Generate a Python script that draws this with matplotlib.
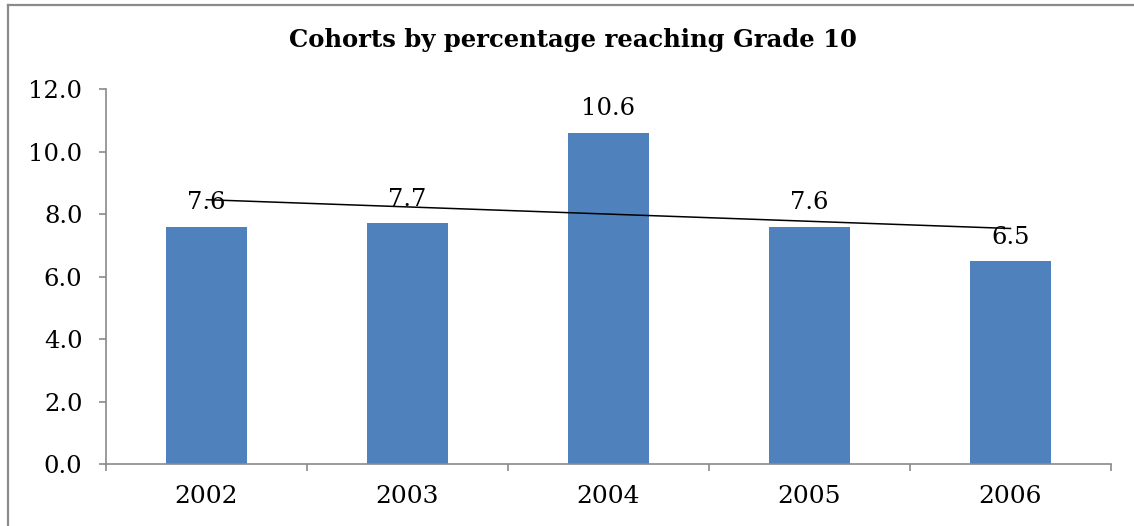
import matplotlib.pyplot as plt
import numpy as np
from matplotlib.lines import Line2D

### Data ###
years = ['2002', '2003', '2004', '2005', '2006']
pct = [7.6, 7.7, 10.6, 7.6, 6.5]
y_ticks = [0, 2, 4, 6, 8, 10, 12]
title = 'Cohorts by percentage reaching Grade 10'

W, H = 1134, 526
fig = plt.figure(figsize=(W / 100, H / 100), dpi=100)
plt.rcParams['font.family'] = ['DejaVu Serif']

# outer chart border (only top and left edges visible)
grey = '#8a8a8a'
fig.add_artist(Line2D([8 / W, 8 / W], [0, 1 - 5 / H], color=grey, lw=1.6, transform=fig.transFigure))
fig.add_artist(Line2D([8 / W, 1], [1 - 5 / H, 1 - 5 / H], color=grey, lw=1.6, transform=fig.transFigure))

ax = fig.add_axes([106 / W, (H - 464.3) / H, 1005 / W, (464.3 - 89) / H])

x = np.arange(len(years))
bars = ax.bar(x, pct, width=0.4, color='#4F81BD', zorder=2)
ax.bar_label(bars, labels=['%.1f' % v for v in pct], padding=9, fontsize=17.5)

# linear trendline
k, b = np.polyfit(x, pct, 1)
ax.plot(x, k * x + b, color='black', lw=1.1, zorder=3)

ax.set_xlim(-0.5, len(years) - 0.5)
ax.set_ylim(0, 12)
ax.set_yticks(y_ticks)
ax.set_yticklabels(['%.1f' % t for t in y_ticks], fontsize=17.5)
ax.set_xticks(x)
ax.set_xticklabels(years, fontsize=18)
ax.set_xticks(np.arange(len(years) + 1) - 0.5, minor=True)

ax.tick_params(axis='x', which='major', length=0, pad=15)
ax.tick_params(axis='x', which='minor', length=5, width=1.2, color=grey, direction='out')
ax.tick_params(axis='y', length=5, width=1.2, color=grey, pad=12)

for s in ['top', 'right']:
    ax.spines[s].set_visible(False)
for s in ['left', 'bottom']:
    ax.spines[s].set_color(grey)
    ax.spines[s].set_linewidth(1.2)

fig.text(573 / W, 1 - 40 / H, title, ha='center', va='center', fontsize=17.5, fontweight='bold')

fig.savefig('out.png', dpi=100)
